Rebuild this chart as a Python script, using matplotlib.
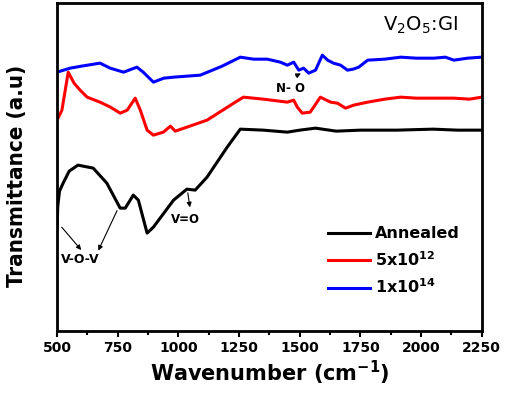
"""
FTIR spectra of V2O5:GI films (annealed vs. two ion fluences).
Saves the figure to out.png.
"""
import matplotlib

matplotlib.use("Agg")
import matplotlib.pyplot as plt
from matplotlib.ticker import MultipleLocator

# ---------- data (wavenumber in cm^-1, transmittance in a.u.) ----------
blue_wn = [500, 554, 600, 677, 719, 774, 829, 855, 897, 940, 980, 1090, 1180, 1255, 1310,
           1366, 1420, 1449, 1475, 1496, 1516, 1537, 1565, 1593, 1615, 1639, 1668, 1697,
           1720, 1743, 1780, 1850, 1916, 1980, 2053, 2100, 2135, 2192, 2250]
blue_t = [259, 263, 265, 268, 263, 259, 264, 259, 249, 253, 254, 256, 265, 274, 272,
          272, 269, 266, 269, 261, 263, 258, 261, 276, 271, 268, 266, 261,
          262, 264, 271, 272, 274, 273, 273, 274, 271, 273, 274]

red_wn = [500, 520, 546, 570, 595, 624, 677, 720, 760, 789, 822, 843, 871, 897, 938,
          967, 987, 1035, 1118, 1228, 1268, 1350, 1449, 1475, 1490, 1510, 1543, 1585,
          1627, 1655, 1689, 1722, 1780, 1850, 1916, 1980, 2053, 2135, 2200, 2250]
red_t = [211, 221, 259, 248, 241, 234, 229, 224, 218, 221, 233, 221, 201, 196, 199,
         205, 200, 204, 211, 228, 234, 232, 229, 231, 224, 218, 219, 234,
         229, 228, 223, 226, 229, 232, 234, 233, 233, 233, 232, 234]

black_wn = [500, 503, 510, 525, 550, 586, 649, 705, 760, 781, 814, 835, 871, 897, 980,
            1035, 1069, 1118, 1201, 1255, 1350, 1449, 1500, 1565, 1650, 1750, 1900,
            2050, 2150, 2250]
black_t = [103, 125, 140, 148, 160, 166, 163, 148, 123, 123, 136, 131, 98, 104, 131,
           142, 141, 154, 184, 202, 201, 199, 201, 203, 200, 201, 201,
           202, 201, 201]

series_labels = ["Annealed", "5x10$^{\\mathbf{12}}$", "1x10$^{\\mathbf{14}}$"]
series_colors = ["black", "#ff0000", "#0000ff"]
x_ticks = [500, 750, 1000, 1250, 1500, 1750, 2000, 2250]

plt.rcParams["font.family"] = "DejaVu Sans"
plt.rcParams["mathtext.fontset"] = "dejavusans"

fig = plt.figure(figsize=(5.05, 3.97), dpi=100)
ax = fig.add_axes([0.113, 0.166, 0.841, 0.826])

for wn, t, lab, col in zip([black_wn, red_wn, blue_wn], [black_t, red_t, blue_t],
                           series_labels, series_colors):
    ax.plot(wn, t, color=col, linewidth=2.2, label=lab)

ax.set_xlim(500, 2250)
ax.set_ylim(0, 328)
ax.set_xticks(x_ticks)
ax.xaxis.set_minor_locator(MultipleLocator(125))
ax.set_yticks([])
ax.tick_params(axis="x", which="major", direction="out", length=4, width=1.5, pad=3)
ax.tick_params(axis="x", which="minor", direction="out", length=3, width=1.5)
for lab in ax.get_xticklabels():
    lab.set_fontweight("bold")
    lab.set_fontsize(10)
for sp in ax.spines.values():
    sp.set_linewidth(2)

ax.set_xlabel("Wavenumber (cm$^{\\mathbf{-1}}$)", fontsize=15, fontweight="bold", labelpad=3)
ax.set_ylabel("Transmittance (a.u)", fontsize=16, fontweight="bold", fontstretch="condensed")
ax.yaxis.set_label_coords(-0.07, 0.473)

# sample name in the corner
ax.text(1998, 306, "V$_2$O$_5$:GI", fontsize=14, ha="center", va="center")

# band assignments
arrow = dict(arrowstyle="-|>", color="black", lw=0.8, mutation_scale=7)
ax.text(595, 72, "V-O-V", fontsize=9, fontweight="bold", ha="center", va="center")
ax.annotate("", xy=(607, 79), xytext=(512, 106), arrowprops=arrow)
ax.annotate("", xy=(665, 78), xytext=(752, 123), arrowprops=arrow)
ax.text(1028, 112, "V=O", fontsize=8.5, fontweight="bold", ha="center", va="center")
ax.annotate("", xy=(1049, 121), xytext=(1037, 141), arrowprops=arrow)
ax.text(1462, 243, "N- O", fontsize=8.5, fontweight="bold", ha="center", va="center")
ax.annotate("", xy=(1515, 259), xytext=(1474, 254), arrowprops=arrow)

ax.legend(loc="center left", bbox_to_anchor=(0.638, 0.213), frameon=False,
          prop={"weight": "bold", "size": 11.5}, handlelength=2.6, handletextpad=0.35,
          labelspacing=0.55, borderpad=0, borderaxespad=0)

fig.savefig("out.png", dpi=100)
